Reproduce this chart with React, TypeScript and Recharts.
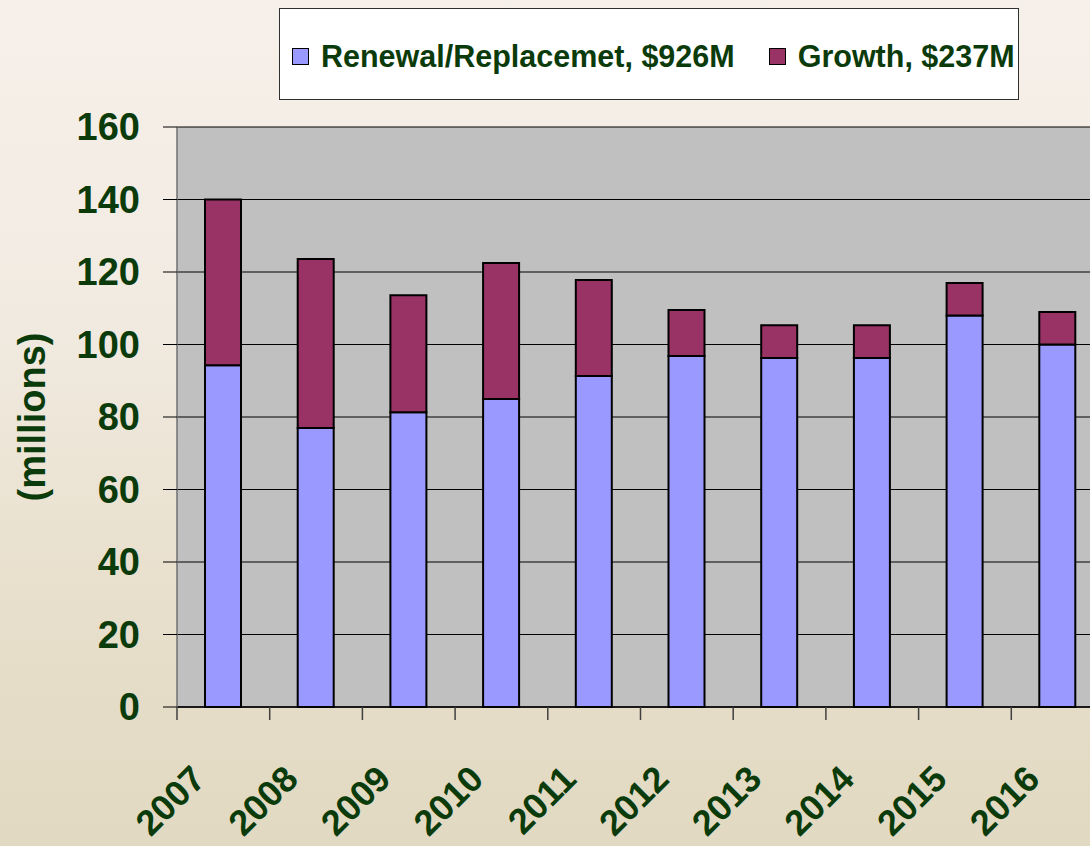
import * as React from 'react';
import { Bar, BarChart, CartesianGrid, XAxis, YAxis } from 'recharts';

const YEARS = ['2007', '2008', '2009', '2010', '2011', '2012', '2013', '2014', '2015', '2016'];
const RENEWAL = [94.3, 77.0, 81.3, 85.0, 91.3, 96.8, 96.3, 96.3, 108.0, 100.0];
const GROWTH = [45.7, 46.6, 32.3, 37.5, 26.5, 12.7, 9.0, 9.0, 9.0, 9.0];
const Y_TICKS = [0, 20, 40, 60, 80, 100, 120, 140, 160];

const SERIES = [
  { key: 'renewal', name: 'Renewal/Replacemet, $926M', color: '#9999FF' },
  { key: 'growth', name: 'Growth, $237M', color: '#993366' },
];

const TEXT = '#0b3b0b';
const FONT = '"Liberation Sans", Arial, sans-serif';

const CHART_W = 1110;
const CHART_H = 846;
const MARGIN = { top: 127, right: 6, bottom: 0, left: 0 };
const Y_AXIS_W = 177;
const STEP = (CHART_W - MARGIN.left - MARGIN.right - Y_AXIS_W) / YEARS.length;

const data = YEARS.map((year, i) => ({ year, renewal: RENEWAL[i], growth: GROWTH[i] }));

function YearTick(props: any) {
  const { x, y, payload } = props;
  const left = x - STEP / 2;
  return (
    <g>
      <line x1={left} x2={left} y1={y} y2={y + 13} stroke="#404040" strokeWidth={1.5} />
      <text
        x={x - 16}
        y={y + 74}
        textAnchor="end"
        transform={`rotate(-45, ${x - 16}, ${y + 74})`}
        fill={TEXT}
        fontSize={36}
        fontWeight="bold"
        fontFamily={FONT}
      >
        {payload.value}
      </text>
    </g>
  );
}

function Legend() {
  return (
    <div
      style={{
        position: 'absolute',
        left: 279,
        top: 8,
        width: 738,
        height: 90,
        boxSizing: 'content-box',
        background: '#fff',
        border: '1px solid #303030',
        display: 'flex',
        alignItems: 'center',
        paddingLeft: 0,
        fontFamily: FONT,
        fontWeight: 'bold',
        fontSize: 30.5,
        color: TEXT,
      }}
    >
      {SERIES.map((s, i) => (
        <div
          key={s.key}
          style={{ display: 'flex', alignItems: 'center', gap: 12, marginLeft: i === 0 ? 12 : 34, marginTop: 4 }}
        >
          <div style={{ width: 15, height: 15, background: s.color, border: '1.5px solid #000' }} />
          <span>{s.name}</span>
        </div>
      ))}
    </div>
  );
}

export default function App() {
  return (
    <div
      style={{
        position: 'fixed',
        left: 0,
        top: 0,
        width: 1090,
        height: 846,
        overflow: 'hidden',
        background: 'linear-gradient(180deg, #f6f0ea 0%, #f2ebe2 35%, #e8dfcc 70%, #e2d9c2 100%)',
      }}
    >
      <div style={{ position: 'absolute', left: 0, top: 0 }}>
        <BarChart width={CHART_W} height={CHART_H} data={data} margin={MARGIN}>
          <CartesianGrid horizontal vertical={false} fill="#C0C0C0" stroke="#000" strokeWidth={1} />
          <XAxis
            dataKey="year"
            height={CHART_H - 707}
            tickLine={false}
            tickSize={0}
            tickMargin={0}
            axisLine={{ stroke: '#000', strokeWidth: 1.5 }}
            tick={<YearTick />}
            interval={0}
          />
          <YAxis
            width={Y_AXIS_W}
            domain={[0, 160]}
            ticks={Y_TICKS}
            interval={0}
            tickSize={14}
            tickMargin={23}
            axisLine={{ stroke: '#707070', strokeWidth: 1.5 }}
            tickLine={{ stroke: '#000' }}
            tick={{ fill: TEXT, fontSize: 38, fontWeight: 'bold', fontFamily: FONT }}
            label={{
              value: '(millions)',
              angle: -90,
              position: 'insideLeft',
              offset: 32,
              style: { fill: TEXT, fontSize: 38, fontWeight: 'bold', fontFamily: FONT, textAnchor: 'middle' },
            }}
          />
          {SERIES.map((s) => (
            <Bar
              key={s.key}
              dataKey={s.key}
              name={s.name}
              stackId="a"
              fill={s.color}
              stroke="#000"
              strokeWidth={2}
              barSize={36}
              isAnimationActive={false}
            />
          ))}
        </BarChart>
      </div>
      <Legend />
    </div>
  );
}
